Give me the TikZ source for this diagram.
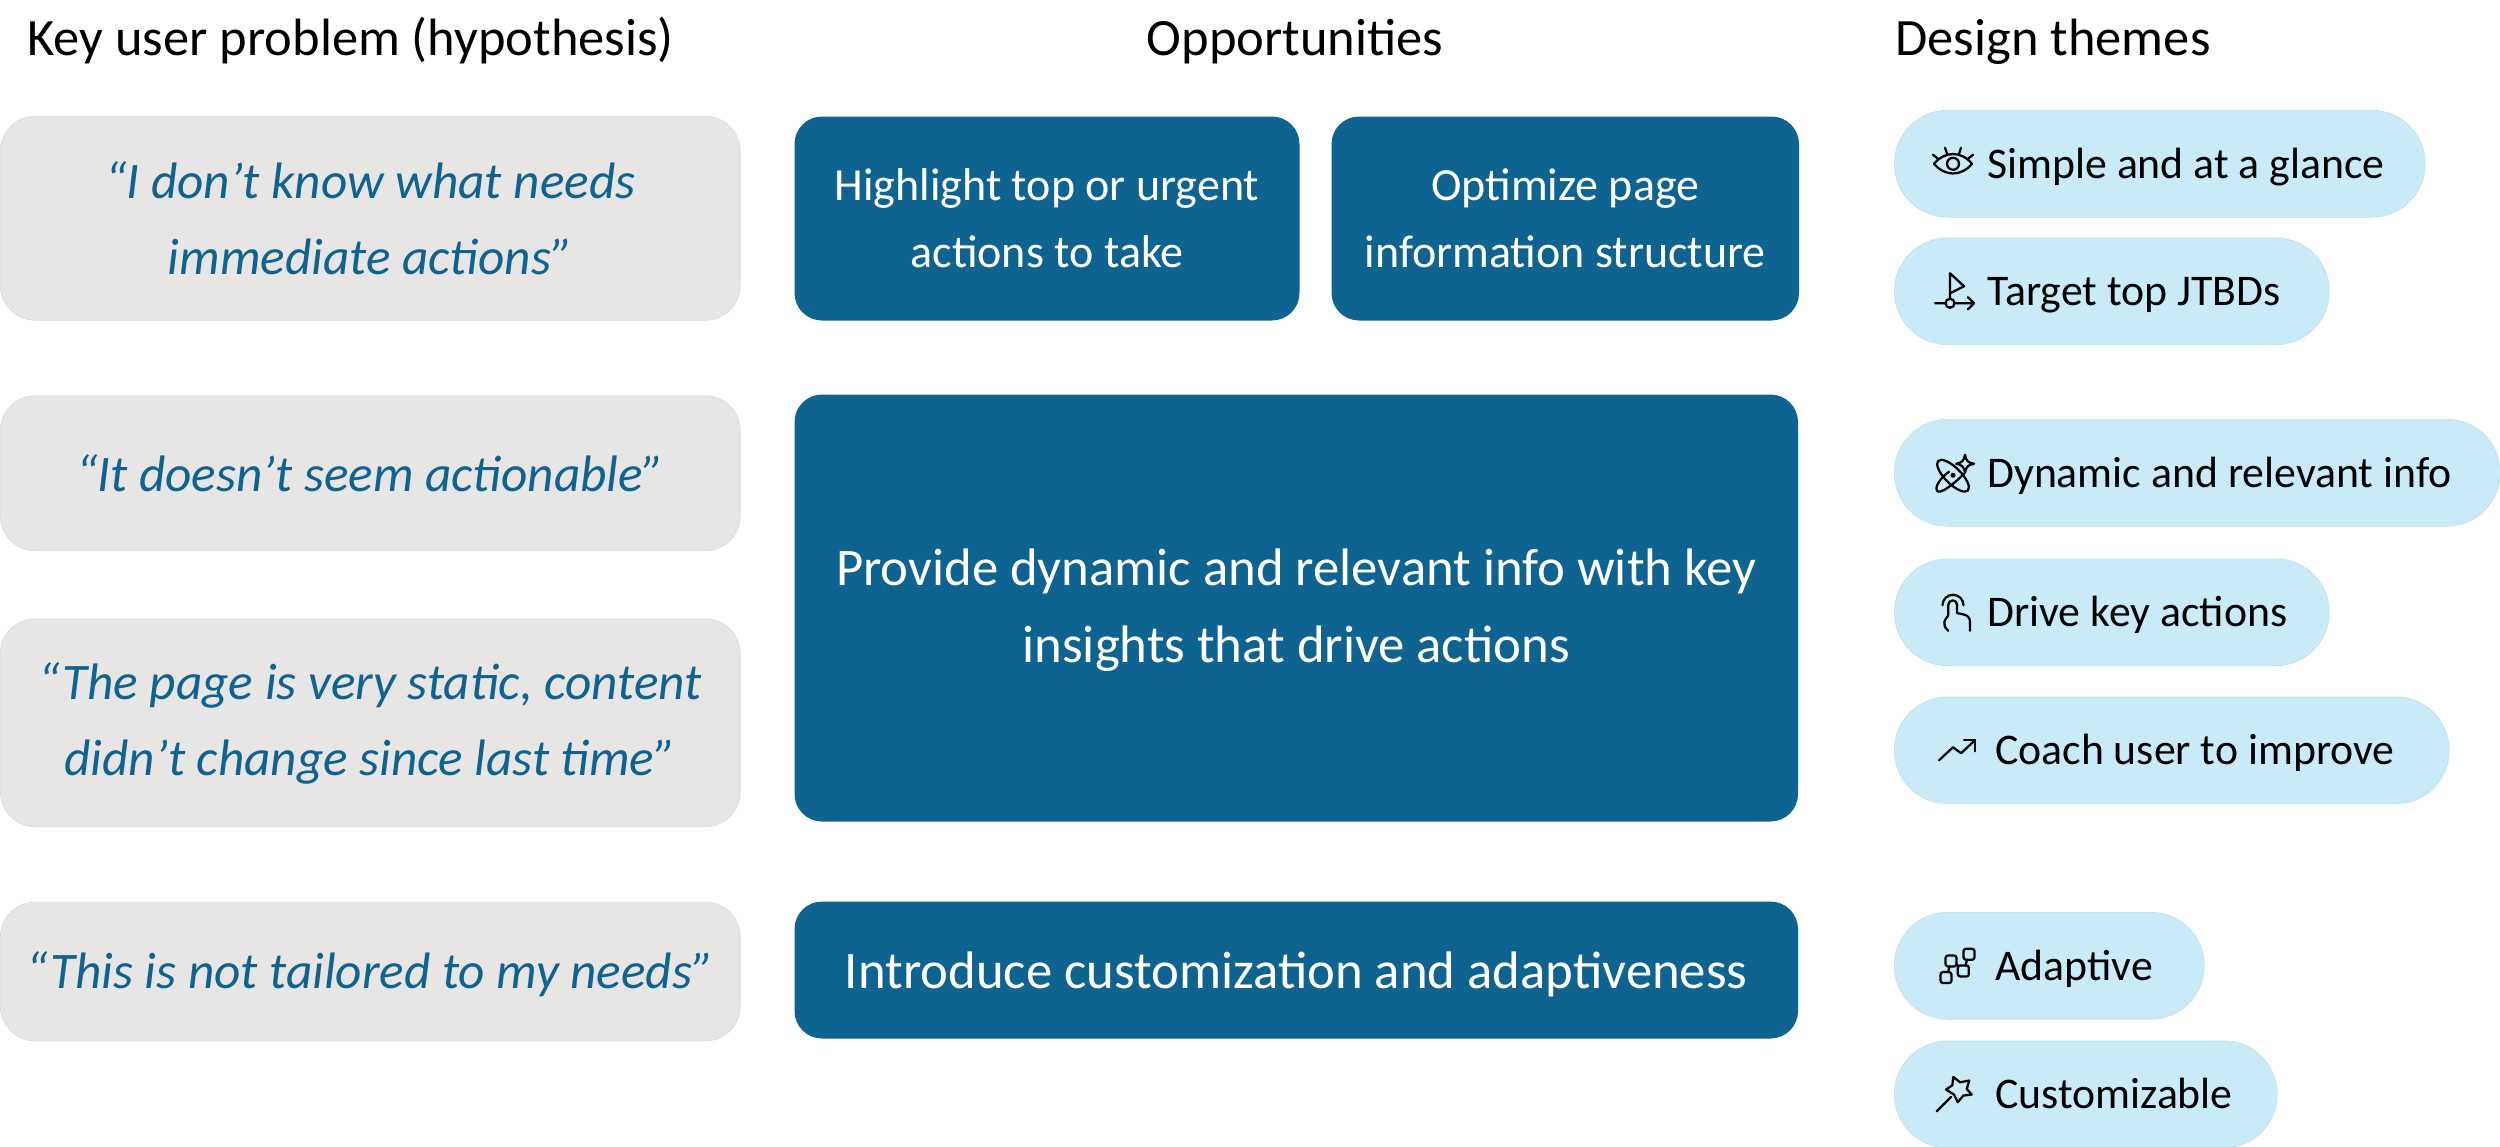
\documentclass[tikz,border=0pt]{standalone}
\usepackage{fontspec}
\setmainfont{Carlito}
\usepackage{xcolor}
\usetikzlibrary{positioning, arrows.meta}
\definecolor{quotegrey}{HTML}{E8E6E4}
\definecolor{oppblue}{HTML}{0F6391}
\definecolor{pillblue}{HTML}{C9EBF8}

\begin{document}
\begin{tikzpicture}[
  head/.style={font=\fontsize{21}{26}\selectfont, text=black, inner sep=0pt, text height=16pt, text depth=5pt},
  quotebox/.style={fill=quotegrey, draw=quotegrey!85!gray, line width=0.2pt, rounded corners=14pt, minimum width=296pt, inner sep=0pt, align=center,
    text=oppblue, font=\fontsize{20.5}{30.6}\selectfont\itshape},
  oppbox/.style={fill=oppblue, rounded corners=11pt, inner sep=0pt, align=center,
    text=white, font=\fontsize{18.4}{26.8}\selectfont},
  bigtext/.style={font=\fontsize{21.1}{30.6}\selectfont},
  pill/.style n args={2}{fill=pillblue, draw=pillblue!85!gray, line width=0.2pt, rounded corners=21.4pt, minimum height=42.8pt, inner sep=0pt,
    text width=#1, execute at begin node={\hspace*{#2}},
    align=flush left, text=black, text height=16.6pt, text depth=5pt, font=\fontsize{17.5}{22}\selectfont},
  icon/.style={draw=black, line width=0.9pt, x=0.4pt, y=0.4pt, line join=round, line cap=round}]
  \useasboundingbox (0,0) rectangle (1000pt,-458.4pt);

  % column headings
  \node[head, anchor=west] (hprob) at (10.8pt,-16.7pt) {Key user problem (hypothesis)};
  \node[head] (hopp) at (518pt,-16.7pt) {Opportunities};
  \node[head, anchor=west] (hthemes) at (758pt,-16.7pt) {Design themes};

  % quotes
  \node[quotebox, anchor=north west, minimum height=81.6pt] (q1) at (0,-46.4pt) {“I don’t know what needs\\immediate actions”};
  \node[quotebox, below=30pt of q1, minimum height=62pt] (q2) {“It doesn’t seem actionable”};
  \node[quotebox, text depth=3pt, below=27pt of q2, minimum height=83.2pt] (q3) {“The page is very static, content\\didn’t change since last time”};
  \node[quotebox, text height=17pt, below=29.9pt of q3, minimum height=55.6pt] (q4) {“This is not tailored to my needs”};

  % opportunities
  \node[oppbox, text depth=-1.3pt, anchor=north west, minimum width=202pt, minimum height=81.6pt] (o1) at (317.6pt,-46.4pt) {Highlight top or urgent\\actions to take};
  \node[oppbox, text depth=-1.3pt, right=12.4pt of o1, minimum width=187pt, minimum height=81.6pt] (o2) {Optimize page\\information structure};
  \node[oppbox, bigtext, text depth=2pt, anchor=north west, minimum width=401.4pt, minimum height=170.8pt] (o3) at (317.6pt,-157.6pt) {Provide dynamic and relevant info with key\\insights that drive actions};
  \node[oppbox, bigtext, text height=18.5pt, anchor=north west, minimum width=401.4pt, minimum height=54.8pt] (o4) at (317.6pt,-360.4pt) {Introduce customization and adaptiveness};

  % design themes
  \node[pill={212.4pt}{37.2pt}, anchor=north west] (t1) at (757.6pt,-44pt) {Simple and at a glance};
  \node[pill={174pt}{37.2pt}, below=8pt of t1.south west, anchor=north west] (t2) {Target top JTBDs};
  \node[pill={242.4pt}{37.2pt}, anchor=north west] (t3) at (757.6pt,-167.6pt) {Dynamic and relevant info};
  \node[pill={174pt}{37.2pt}, below=12.8pt of t3.south west, anchor=north west] (t4) {Drive key actions};
  \node[pill={222pt}{40.4pt}, below=12.2pt of t4.south west, anchor=north west] (t5) {Coach user to improve};
  \node[pill={124pt}{40.4pt}, anchor=north west] (t6) at (757.6pt,-364.8pt) {Adaptive};
  \node[pill={153.2pt}{40.4pt}, below=8.4pt of t6.south west, anchor=north west] (t7) {Customizable};

  % icons
  \tikzset{
    eyeicon/.pic={
      \draw[icon] (-19,0) .. controls (-8,13) and (8,13) .. (19,0) .. controls (8,-13) and (-8,-13) .. cycle;
      \draw[icon] (0,0) circle[radius=6];
      \draw[icon] (-6,10) -- (-8,16) (6,10) -- (8,16) (-15,5) -- (-20,9) (15,5) -- (20,9);
    },
    targeticon/.pic={
      \draw[icon] (-3,-7) -- (-3,18) -- (11,5) -- (-3,-2);
      \draw[icon] (-3,-12) circle[radius=4.5];
      \draw[icon] (-18,-12) -- (-8,-12) (2,-12) -- (21,-12) (15,-6) -- (21,-12) -- (15,-18);
    },
    atomicon/.pic={
      \draw[icon, rotate around={-45:(0,-3)}] (0,-3) ellipse[x radius=21, y radius=8];
      \draw[icon] (-4,1) .. controls (-10,-3) and (-19,-13) .. (-16,-18) .. controls (-13,-22) and (0,-12) .. (11,-1);
      \fill[black, x=0.4pt, y=0.4pt] (0,-2.5) circle[radius=2.5];
      \draw[icon] (12,18) .. controls (13,12) and (15,10) .. (21,9) .. controls (15,8) and (13,6) .. (12,0) .. controls (11,6) and (9,8) .. (3,9) .. controls (9,10) and (11,12) .. cycle;
    },
    touchicon/.pic={
      \draw[icon] (-4.7,-18.5) .. controls (-8.7,-15) and (-8.7,-13) .. (-8.7,-10) .. controls (-8.7,-7) and (-4.7,-5) .. (-4.7,-1.8) -- (-4.7,7.5)
        arc[start angle=180, end angle=0, radius=4.4] -- (4,-0.8) -- (10,-2) .. controls (15,-3) and (17,-6) .. (17,-10) -- (17,-18.5);
      \draw[icon] (-10.5,7) arc[start angle=180, end angle=0, radius=10.5];
    },
    trendicon/.pic={
      \draw[icon] (-14,-10) -- (0,3) -- (8,-3) -- (22,10);
      \draw[icon] (11,10) -- (22,10) -- (22,-1);
    },
    adapticon/.pic={
      \draw[icon, rounded corners=1pt] (10.5,6) rectangle (21.5,17);
      \draw[icon, rounded corners=1pt] (4.8,-10.7) rectangle (15.8,0.3);
      \draw[icon, rounded corners=1pt] (-7.5,-0.7) rectangle (3.5,10.3);
      \draw[icon, rounded corners=1pt] (-12.5,-17.3) rectangle (-1.5,-6.3);
      \draw[icon] (-3.5,-0.7) -- (-5,-6.3) (3.5,1.5) -- (4.8,0.3) (14,6) -- (12.5,0.3);
    },
    wandicon/.pic={
      \draw[icon] (-16.3,-17) -- (-2,-2.7);
      \draw[icon] (0.3,17.3) -- (7,12) -- (16.3,13.7) -- (13.7,5.3) -- (18.7,-0.3) -- (10.3,-1.3) -- (4.7,-8) -- (1,-0.3) -- (-7,4.7) -- (-0.7,9) -- cycle;
    }
  }
  \pic at ([xshift=23.6pt]t1.west) {eyeicon};
  \pic at ([xshift=23.6pt]t2.west) {targeticon};
  \pic at ([xshift=23.6pt]t3.west) {atomicon};
  \pic at ([xshift=23.6pt]t4.west) {touchicon};
  \pic at ([xshift=23.6pt]t5.west) {trendicon};
  \pic at ([xshift=23.6pt]t6.west) {adapticon};
  \pic at ([xshift=23.6pt]t7.west) {wandicon};
\end{tikzpicture}
\end{document}
